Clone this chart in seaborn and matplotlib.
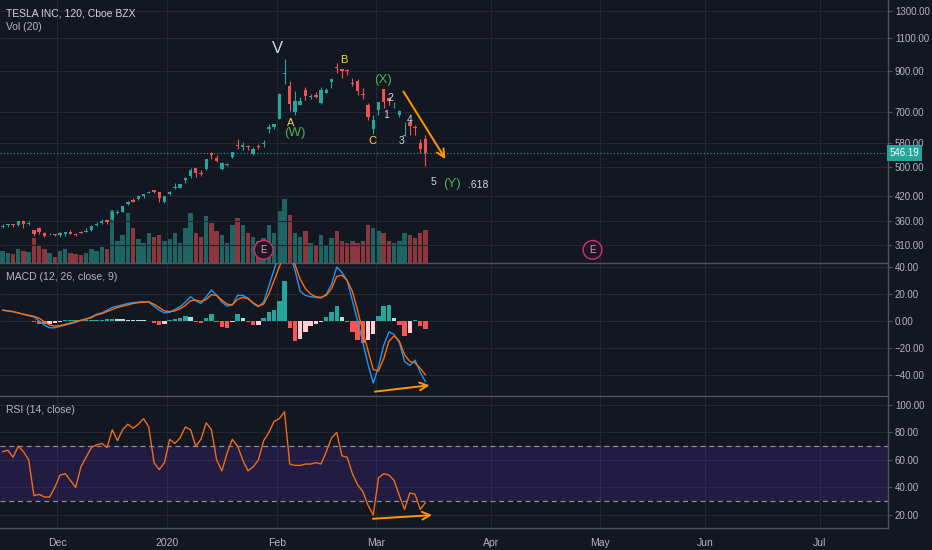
import numpy as np
import pandas as pd
import matplotlib
matplotlib.use("Agg")
import matplotlib.pyplot as plt
import matplotlib.ticker as mticker
import seaborn as sns

# trading calendar: TSLA 120 min chart, squeezed here to one candle per session
holidays = ["2019-11-28", "2019-12-25", "2020-01-01", "2020-01-20", "2020-02-17",
            "2020-04-10", "2020-05-25", "2020-07-03"]
days = pd.bdate_range("2019-11-14", "2020-07-31")
days = days[~days.isin(pd.to_datetime(holidays))]

# OHLC (Nov 14 2019 -> Mar 13 2020)
opens = [346, 350, 352, 351, 360, 354, 341, 344, 335, 331, 332,
         329, 332, 337, 333, 336, 337, 340, 351, 355, 362, 363, 378, 380, 398, 410,
         411, 418, 427, 435, 429, 405,
         424, 440, 440, 461, 474, 497, 481, 493, 544, 529, 494, 507, 531, 571, 564,
         570, 541, 568, 575, 632, 640,
         673, 882, 823, 699, 730, 800, 768, 777, 741, 787, 841, 923, 911, 906, 839,
         849, 782, 730, 630,
         711, 805, 763, 723, 690, 606, 659, 640, 580, 595]
highs = [353, 352, 353, 359, 361, 360, 341, 347, 336, 334, 332,
         336, 337, 341, 334, 338, 345, 350, 357, 364, 365, 383, 385, 395, 406, 413,
         422, 425, 433, 435, 429, 418,
         431, 454, 451, 471, 498, 498, 492, 525, 547, 537, 515, 514, 548, 594, 582,
         573, 566, 576, 589, 650, 653,
         786, 968, 845, 795, 769, 819, 783, 790, 818, 812, 860, 944, 912, 913, 863,
         856, 813, 739, 690,
         743, 806, 766, 745, 708, 661, 668, 646, 595, 607]
lows = [344, 346, 346, 348, 345, 351, 328, 332, 325, 329, 328,
        326, 327, 332, 327, 334, 336, 339, 348, 353, 353, 362, 375, 379, 396, 403,
        410, 413, 426, 426, 405, 402,
        422, 436, 440, 453, 468, 472, 475, 491, 524, 516, 492, 503, 529, 560, 556,
        554, 539, 558, 567, 618, 632,
        673, 833, 704, 687, 730, 752, 758, 762, 735, 785, 813, 890, 865, 878, 822,
        778, 761, 669, 611,
        686, 716, 732, 718, 679, 605, 608, 610, 546, 502]
closes = [349, 352, 350, 359, 352, 354, 333, 336, 328, 331, 330,
          334, 337, 333, 330, 335, 339, 349, 352, 359, 358, 381, 378, 393, 404, 405,
          419, 425, 430, 430, 414, 418,
          430, 443, 451, 469, 492, 481, 478, 524, 537, 518, 513, 510, 547, 569, 572,
          564, 558, 566, 580, 640, 650,
          780, 887, 734, 748, 748, 771, 774, 767, 804, 800, 858, 917, 899, 901, 833,
          799, 778, 679, 667,
          743, 745, 749, 724, 703, 608, 645, 634, 560, 546.19]
volume = [12, 10, 9, 14, 12, 11, 25, 18, 14, 10, 6,
          12, 14, 10, 9, 8, 10, 14, 12, 16, 14, 53, 22, 28, 50, 35,
          24, 20, 30, 26, 28, 22,
          24, 30, 20, 35, 50, 30, 26, 47, 40, 32, 28, 20, 38, 45, 38,
          30, 26, 22, 25, 38, 30,
          52, 64, 48, 30, 26, 32, 20, 18, 28, 18, 25, 32, 22, 20, 22,
          20, 22, 38, 35,
          32, 30, 22, 20, 22, 30, 28, 25, 30, 33]

# MACD (12, 26, close, 9)
macd_line = [8, 7.5, 6.8, 6, 5, 4, 3, 0, -3, -5, -5,
             -4, -3, -2, -1, 0.5, 1.5, 3, 5, 6, 8, 10, 11, 12, 13, 13.6,
             14, 14.3, 14, 11, 8, 6,
             6.5, 8.5, 10.6, 14, 18, 15, 13, 18, 23, 19, 14, 11, 12, 19, 19,
             17, 13, 10.6, 14, 26, 38,
             50, 58, 50, 38, 22, 19, 18, 17.5, 17, 20, 27, 40, 36, 30, 15,
             0, -16, -32, -46,
             -34, -18, -8, -10, -16, -30, -33, -29, -38, -45]
signal_line = [8, 7.5, 7, 6, 5, 4.2, 3.5, 2, -0.5, -3, -3.8,
               -3.5, -2.5, -1.5, -0.5, 0.5, 1.5, 2.5, 4.5, 5.5, 7, 8.5, 10, 11, 12, 13,
               13.6, 14, 14.2, 12.5, 10, 7.5,
               7, 7.5, 9, 11.5, 15, 15.5, 14.5, 16, 19.5, 19, 15.5, 12.5, 12, 16, 17.5,
               16.5, 13.5, 11, 12.5, 20, 30,
               40, 50, 52, 42, 31, 24, 20, 18, 17.5, 19, 24, 33, 34, 30, 22,
               8, -8, -22, -36,
               -37, -28, -15, -11, -15, -25, -30, -31, -35, -40]
macd_hist = [-0.3, 0.3, -0.3, -0.3, 0.2, -0.3, -1, -2, -2.5, -2, -1.5,
             -0.5, 0.5, 0.5, 0.8, 0.5, 0.8, 1, 1, 1, 1.2, 1.8, 1.5, 1.2, 1, 0.8,
             0.5, 0.4, 0.3, -1.5, -3, -2,
             0.5, 1.5, 2, 3.7, 3, -0.5, -1.5, 2.5, 5, -1, -4.5, -5, -1, 5, 2,
             -1, -3, -3, 2, 7, 8,
             15, 30, -5, -15, -13, -8, -4, -2, -1, 3, 7, 11, 3, -1, -8,
             -14, -16, -14, -10,
             4, 11, 12, 2, -3, -11, -9, 1, -4, -6]

# RSI (14, close)
rsi = [66, 67, 62, 70, 66, 60, 34, 35, 33, 33, 40,
       49, 50, 45, 40, 55, 62, 69, 71, 72, 69, 82, 74, 82, 86, 83,
       86, 90, 84, 58, 53, 58,
       75, 72, 76, 84, 82, 70, 75, 87, 82, 60, 52, 65, 75, 70, 60,
       52, 55, 60, 74, 80, 88,
       90, 95, 57, 56, 56, 57, 57, 58, 57, 66, 76, 80, 63, 62, 50,
       42, 37, 27, 20,
       47, 50, 49, 45, 34, 24, 36, 35, 24, 29]

last_price = 546.19
month_firsts = ["2019-12-01", "2020-01-01", "2020-02-01", "2020-03-01",
                "2020-04-01", "2020-05-01", "2020-06-01", "2020-07-01"]
month_labels = ["Dec", "2020", "Feb", "Mar", "Apr", "May", "Jun", "Jul"]
price_ticks = [310, 360, 420, 500, 580, 700, 900, 1100, 1300]
macd_ticks = [-40, -20, 0, 20, 40]
rsi_ticks = [20, 40, 60, 80, 100]
earnings_dates = ["2020-01-29", "2020-04-29"]

# Elliott wave count drawn by the author
wave_text = ["V", "B", "(X)", "A", "(W)", "C", "1", "2", "3", "4", "5", "(Y)", ".618"]
wave_x = [52.6, 65.4, 72.9, 55.2, 56.0, 70.8, 73.4, 74.2, 76.5, 78.0, 82.5, 86.1, 91.1]
wave_y = [1036, 963, 851, 654, 616, 587, 687, 762, 587, 666, 456, 450, 447]

# colours
bg = "#131722"
grid_c = "#252833"
text_c = "#b2b5be"
sep_c = "#50535e"
up_c = "#26a69a"
down_c = "#ef5350"
orange = "#ff9800"
yellow = "#f5d63d"
green = "#4caf50"
white = "#d1d4dc"
wave_color = [white, yellow, green, yellow, green, yellow, white, white, white, white,
              white, green, white]
wave_size = [12, 8, 9.5, 8, 9.5, 8, 7.5, 7.5, 7.5, 7.5, 7.5, 9.5, 7.5]

sns.set_theme(style="dark", rc={"axes.facecolor": bg, "figure.facecolor": bg,
                                "axes.edgecolor": sep_c, "text.color": text_c,
                                "xtick.color": text_c, "ytick.color": text_c})
plt.rcParams["font.family"] = ["Liberation Sans", "DejaVu Sans"]

W, H = 932, 550
fig = plt.figure(figsize=(W / 100, H / 100), dpi=100)


def pane(top, bottom, share=None):
    return fig.add_axes([0, 1 - bottom / H, 888 / W, (bottom - top) / H], sharex=share)


ax_p = pane(0, 263)
ax_m = pane(263, 396, ax_p)
ax_r = pane(396, 528, ax_p)

x = np.arange(len(closes))
o, hi, lo, c = (np.array(a, dtype=float) for a in (opens, highs, lows, closes))
candle_c = np.where(c >= o, up_c, down_c)

# volume overlay at the foot of the price pane
ax_v = ax_p.twinx()
ax_v.bar(x, volume, width=0.85, color=candle_c, alpha=0.55, linewidth=0)
ax_v.set_ylim(0, max(volume) * 263 / 64)
ax_v.set_yticks([])
for s in ax_v.spines.values():
    s.set_visible(False)
ax_p.set_zorder(ax_v.get_zorder() + 1)
ax_p.patch.set_visible(False)

# candles
ax_p.vlines(x, lo, hi, colors=candle_c, lw=0.8, zorder=3)
ax_p.bar(x, np.maximum(np.abs(c - o), 1.0), bottom=np.minimum(o, c), width=0.65,
         color=candle_c, linewidth=0, zorder=4)
ax_p.set_yscale("log")
ax_p.set_ylim(278, 1391)
ax_p.yaxis.set_major_locator(mticker.FixedLocator(price_ticks))
ax_p.yaxis.set_minor_locator(mticker.NullLocator())
ax_p.yaxis.set_major_formatter(mticker.FuncFormatter(lambda v, _: f"{v:.2f}"))
ax_p.axhline(last_price, color=up_c, ls=(0, (1, 2)), lw=0.8, zorder=2)
ax_p.text(1.002, last_price, f"{last_price:.2f}", transform=ax_p.get_yaxis_transform(),
          ha="left", va="center", color="white", fontsize=7, zorder=10, clip_on=False,
          bbox=dict(boxstyle="square,pad=0.3", fc=up_c, ec="none"))

for t, wx, wy, col, fs in zip(wave_text, wave_x, wave_y, wave_color, wave_size):
    ax_p.text(wx, wy, t, color=col, fontsize=fs, ha="center", va="center", zorder=6)
ax_p.annotate("", xy=(85.1, 518), xytext=(76.5, 806),
              arrowprops=dict(arrowstyle="->", color=orange, lw=1.4, mutation_scale=14))

for d in earnings_dates:
    ex = np.searchsorted(days, pd.Timestamp(d))
    ax_p.annotate("E", xy=(ex, 0.05), xycoords=("data", "axes fraction"), ha="center",
                  va="center", color="#e0a0b0", fontsize=7, zorder=7,
                  bbox=dict(boxstyle="circle,pad=0.45", fc="#1e1624", ec="#d0336a", lw=1))

# MACD pane
hist = np.array(macd_hist)
prev = np.concatenate([[0], hist[:-1]])
hist_c = np.where(hist >= 0, np.where(hist >= prev, "#26a69a", "#b2dfdb"),
                  np.where(hist < prev, "#ff5252", "#ffcdd2"))
ax_m.bar(x, hist, width=0.85, color=hist_c, linewidth=0, zorder=2)
sns.lineplot(x=x, y=macd_line, ax=ax_m, color="#2196f3", lw=1, zorder=3)
sns.lineplot(x=x, y=signal_line, ax=ax_m, color="#ff6d00", lw=1, zorder=3)
ax_m.set_ylim(-55.6, 43)
ax_m.set_yticks(macd_ticks)
ax_m.yaxis.set_major_formatter(mticker.FuncFormatter(lambda v, _: f"{v:.2f}".replace("-", "\u2212")))
ax_m.annotate("", xy=(82.3, -47.4), xytext=(70.8, -52.6),
              arrowprops=dict(arrowstyle="->", color=orange, lw=1.4, mutation_scale=14))

# RSI pane
ax_r.axhspan(30, 70, color="#5a2bb8", alpha=0.22, lw=0, zorder=1)
for lvl in (30, 70):
    ax_r.axhline(lvl, color="#8a8d99", lw=0.9, ls=(0, (4, 3)), zorder=2)
sns.lineplot(x=x, y=rsi, ax=ax_r, color="#ef6c1a", lw=1, zorder=3)
ax_r.set_ylim(10.5, 106.5)
ax_r.set_yticks(rsi_ticks)
ax_r.yaxis.set_major_formatter(mticker.FuncFormatter(lambda v, _: f"{v:.2f}"))
ax_r.annotate("", xy=(82.8, 20), xytext=(70.4, 17.1),
              arrowprops=dict(arrowstyle="->", color=orange, lw=1.4, mutation_scale=14))

# shared x axis: month starts on the trading-day index
month_pos = [np.searchsorted(days, pd.Timestamp(m)) - 0.5 for m in month_firsts]
ax_r.set_xlim(-0.5, 169.6)
ax_r.set_xticks(month_pos)
ax_r.set_xticklabels(month_labels)

for ax in (ax_p, ax_m, ax_r):
    ax.grid(True, color=grid_c, lw=0.8, zorder=0)
    ax.set_axisbelow(True)
    ax.yaxis.tick_right()
    ax.tick_params(axis="y", labelsize=7, length=3, width=0.8, color="#4c525e",
                   pad=2, labelcolor=text_c)
    ax.tick_params(axis="x", length=0, labelbottom=False)
    ax.set_xlabel("")
    ax.set_ylabel("")
    for side, s in ax.spines.items():
        s.set_visible(side == "right")
        s.set_color(sep_c)
        s.set_linewidth(1)
for ax in (ax_m, ax_r):
    ax.spines["top"].set_visible(True)
    ax.spines["top"].set_color(sep_c)
ax_r.spines["bottom"].set_visible(True)
ax_r.spines["bottom"].set_color(sep_c)
ax_r.tick_params(axis="x", labelbottom=True, labelsize=7.5, pad=7, labelcolor=text_c)

fig.text(6 / W, 1 - 13 / H, "TESLA INC, 120, Cboe BZX", fontsize=7.5, color=white, va="center")
fig.text(6 / W, 1 - 27 / H, "Vol (20)", fontsize=7.5, color=text_c, va="center")
fig.text(6 / W, 1 - 277 / H, "MACD (12, 26, close, 9)", fontsize=7.5, color=text_c, va="center")
fig.text(6 / W, 1 - 410 / H, "RSI (14, close)", fontsize=7.5, color=text_c, va="center")

fig.savefig("out.png", dpi=100, facecolor=bg)
